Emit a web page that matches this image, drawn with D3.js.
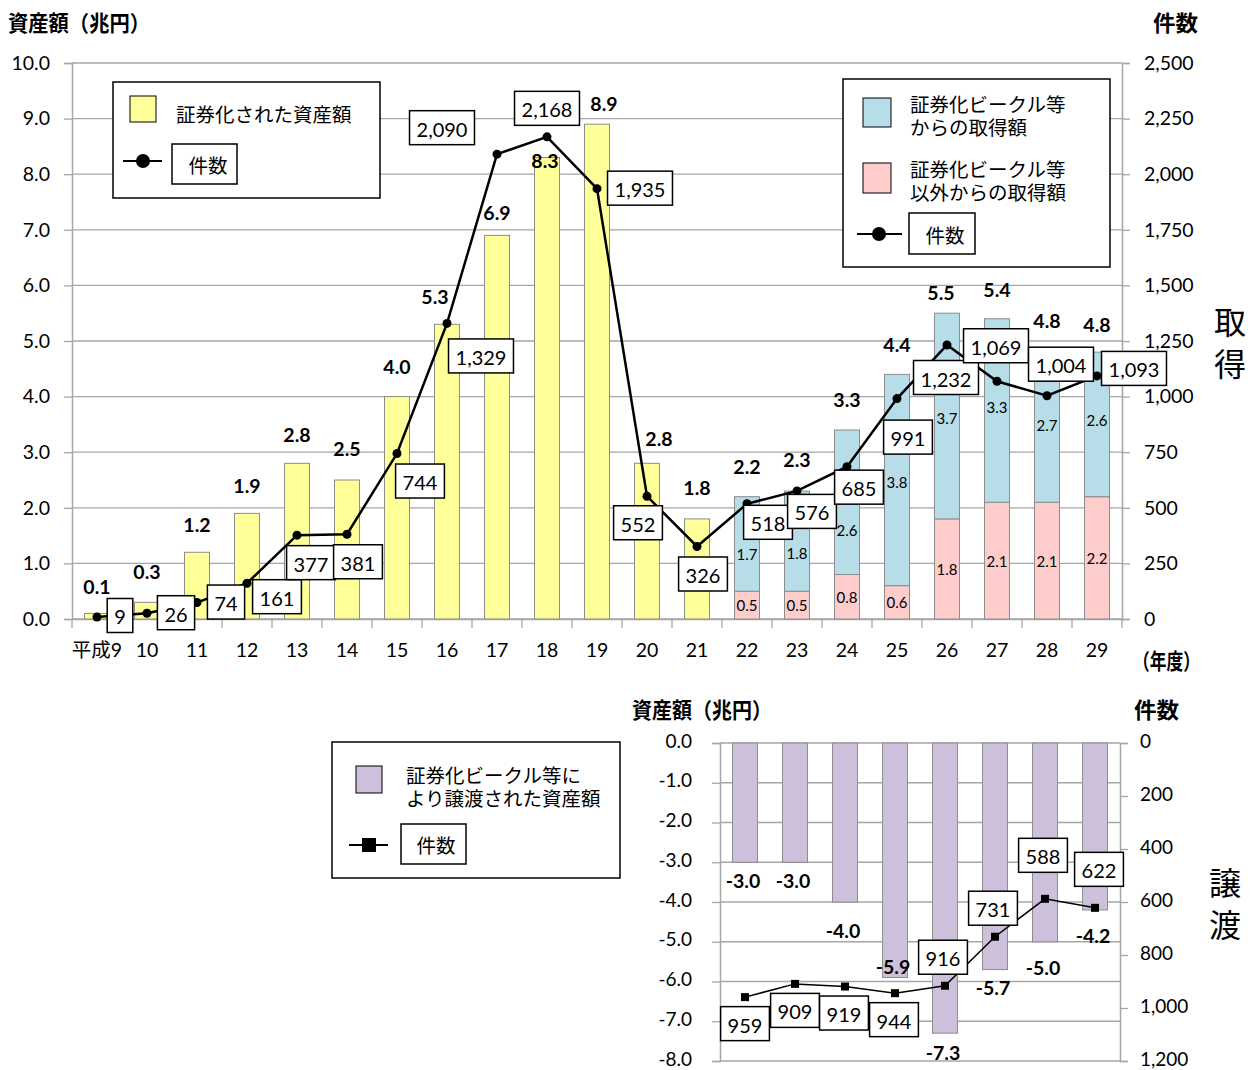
<!DOCTYPE html>
<html><head><meta charset="utf-8">
<script src="https://cdn.jsdelivr.net/npm/d3@7/dist/d3.min.js"></script>
<style>
body{margin:0;background:#fff;}
text{font-family:Lato,'Noto Sans CJK JP',sans-serif;fill:#000;}
</style></head><body>
<svg id="c" width="1255" height="1070"></svg>
<script>
// ---------- data ----------
const topYears = ['平成9','10','11','12','13','14','15','16','17','18','19','20','21','22','23','24','25','26','27','28','29'];
const securitizedYears = ['平成9','10','11','12','13','14','15','16','17','18','19','20','21'];
const securitizedAmount = [0.1,0.3,1.2,1.9,2.8,2.5,4.0,5.3,6.9,8.3,8.9,2.8,1.8];
const acqYears = ['22','23','24','25','26','27','28','29'];
const acqFromVehicle = [1.7,1.8,2.6,3.8,3.7,3.3,2.7,2.6];
const acqOther = [0.5,0.5,0.8,0.6,1.8,2.1,2.1,2.2];
const acqTotal = [2.2,2.3,3.3,4.4,5.5,5.4,4.8,4.8];
const topCounts = [9,26,74,161,377,381,744,1329,2090,2168,1935,552,326,518,576,685,991,1232,1069,1004,1093];
const leftTicksTop = [0,1,2,3,4,5,6,7,8,9,10];
const rightTicksTop = [0,250,500,750,1000,1250,1500,1750,2000,2250,2500];

const transferYears = ['22','23','24','25','26','27','28','29'];
const transferAmount = [-3.0,-3.0,-4.0,-5.9,-7.3,-5.7,-5.0,-4.2];
const transferCounts = [959,909,919,944,916,731,588,622];
const leftTicksBot = [0,-1,-2,-3,-4,-5,-6,-7,-8];
const rightTicksBot = [0,200,400,600,800,1000,1200];

// ---------- layout (label placement offsets) ----------
const topCountOff = [[23,0],[29,1],[29,1],[30,15],[14,29],[11,29],[23,29],[34,34],[-55,-25],[0,-27],[43,1],[-9,28],[6,29],[21,20],[15,22],[12,22],[11,40],[-1,34],[-1,-34],[14,-30],[37,-6]];
const topTotalOff = [[0,-26],[0,-30],[0,-27],[0,-27],[0,-28],[0,-31],[0,-29],[-12,-27],[0,-22],[-2,4],[7,-20],[12,-24],[0,-30],[0,-29],[0,-31],[0,-29],[0,-29],[-6,-20],[0,-28],[0,-31],[0,-27]];
const vehicleLblOff = [10,12,28,2,2,-4,-2,-4];
const botCountOff = [[0,28],[0,28],[-1,28],[-1,28],[-2,-27],[-2,-27],[-2,-42],[4,-37]];
const botAmtOff = [18,18,28,-11,19,18,26,26];

const svg = d3.select('#c');
const fmt1 = d => d.toFixed(1);
const fmtC = d3.format(',');
const grid = '#a6a6a6';

// ================= TOP CHART =================
const xT = d3.scaleBand().domain(topYears).range([72,1122]).paddingInner(0.5).paddingOuter(0.25);
const yL = d3.scaleLinear().domain([0,10]).range([619,63]);
const yR = d3.scaleLinear().domain([0,2500]).range([619,63]);
const cx = d => xT(d) + xT.bandwidth()/2;

const gT = svg.append('g');
gT.selectAll('line.g').data(leftTicksTop).join('line')
  .attr('x1',72).attr('x2',1122).attr('y1',d=>yL(d)).attr('y2',d=>yL(d))
  .attr('stroke',grid).attr('stroke-width',1.3);
const axL = gT.append('g').attr('transform','translate(72,0)')
  .call(d3.axisLeft(yL).tickValues(leftTicksTop).tickFormat(fmt1).tickSize(8).tickPadding(14));
const axR = gT.append('g').attr('transform','translate(1122,0)')
  .call(d3.axisRight(yR).tickValues(rightTicksTop).tickFormat(fmtC).tickSize(8).tickPadding(14));
[axL,axR].forEach(a=>{
  a.select('.domain').attr('stroke',grid).attr('stroke-width',1.5);
  a.selectAll('.tick line').attr('stroke',grid).attr('stroke-width',1.3);
  a.selectAll('.tick text').attr('font-size',19.5).attr('font-family','Lato');
});
const axB = gT.append('g').attr('transform','translate(0,619)')
  .call(d3.axisBottom(xT).tickSize(0).tickPadding(24));
axB.select('.domain').attr('stroke',grid).attr('stroke-width',1.5);
axB.selectAll('.tick text').attr('font-size',19.5);
const bounds = topYears.map(d=>xT(d) - xT.step()*0.25).concat([xT(topYears[topYears.length-1]) + xT.step()*0.75]);
gT.selectAll('line.bt').data(bounds).join('line')
  .attr('x1',d=>d).attr('x2',d=>d).attr('y1',619).attr('y2',628)
  .attr('stroke',grid).attr('stroke-width',1.3);

gT.selectAll('rect.y').data(securitizedAmount).join('rect')
  .attr('x',(d,i)=>xT(securitizedYears[i])).attr('width',xT.bandwidth())
  .attr('y',d=>yL(d)).attr('height',d=>yL(0)-yL(d))
  .attr('fill','#ffff99').attr('stroke','#8c8c8c').attr('stroke-width',1);
gT.selectAll('rect.p').data(acqOther).join('rect')
  .attr('x',(d,i)=>xT(acqYears[i])).attr('width',xT.bandwidth())
  .attr('y',d=>yL(d)).attr('height',d=>yL(0)-yL(d))
  .attr('fill','#ffcccc').attr('stroke','#8c8c8c').attr('stroke-width',1);
gT.selectAll('rect.b').data(acqFromVehicle).join('rect')
  .attr('x',(d,i)=>xT(acqYears[i])).attr('width',xT.bandwidth())
  .attr('y',(d,i)=>yL(d+acqOther[i])).attr('height',(d,i)=>yL(acqOther[i])-yL(d+acqOther[i]))
  .attr('fill','#b7dde8').attr('stroke','#8c8c8c').attr('stroke-width',1);
gT.selectAll('text.pl').data(acqOther).join('text')
  .attr('x',(d,i)=>cx(acqYears[i])).attr('y',d=>(yL(0)+yL(d))/2)
  .attr('text-anchor','middle').attr('dominant-baseline','central').attr('font-size',15)
  .text(fmt1);
gT.selectAll('text.bl').data(acqFromVehicle).join('text')
  .attr('x',(d,i)=>cx(acqYears[i])).attr('y',(d,i)=>(yL(acqOther[i])+yL(d+acqOther[i]))/2 + vehicleLblOff[i])
  .attr('text-anchor','middle').attr('dominant-baseline','central').attr('font-size',15)
  .text(fmt1);
const topTotals = securitizedAmount.concat(acqTotal);
const topBarTops = securitizedAmount.concat(acqFromVehicle.map((d,i)=>d+acqOther[i]));
gT.selectAll('text.tt').data(topTotals).join('text')
  .attr('x',(d,i)=>cx(topYears[i]) + topTotalOff[i][0])
  .attr('y',(d,i)=>yL(topBarTops[i]) + topTotalOff[i][1] - 1)
  .attr('text-anchor','middle').attr('dominant-baseline','central')
  .attr('font-size',19.5).attr('font-weight','bold').text(fmt1);
const lineT = d3.line().x((d,i)=>cx(topYears[i])).y(d=>yR(d));
gT.append('path').datum(topCounts).attr('d',lineT).attr('fill','none').attr('stroke','#000').attr('stroke-width',2.5);
gT.selectAll('circle.pt').data(topCounts).join('circle')
  .attr('cx',(d,i)=>cx(topYears[i])).attr('cy',d=>yR(d)).attr('r',4.5).attr('fill','#000');
function boxLabels(g, data, xf, yf, off, fs){
  const gg = g.selectAll('g.lb').data(data).join('g')
    .attr('transform',(d,i)=>`translate(${xf(d,i)+off[i][0]},${yf(d,i)+off[i][1]-1.5})`);
  gg.append('rect');
  const t = gg.append('text').attr('text-anchor','middle').attr('dominant-baseline','central')
    .attr('font-size',fs).attr('y',1).text(d=>fmtC(d));
  t.each(function(){
    const w = this.getComputedTextLength();
    d3.select(this.previousSibling).attr('x',-w/2-7).attr('width',w+14).attr('y',-17).attr('height',34)
      .attr('fill','#fff').attr('stroke','#000').attr('stroke-width',1.5);
  });
}
boxLabels(gT.append('g'), topCounts, (d,i)=>cx(topYears[i]), d=>yR(d), topCountOff, 20);

function title(x,y,txt,len){
  const t = svg.append('text').attr('x',x).attr('y',y).attr('font-size',22).attr('font-weight','bold').text(txt);
  if(len) t.attr('textLength',len).attr('lengthAdjust','spacingAndGlyphs');
  return t;
}
title(8,31,'資産額（兆円）',142);
title(1153,31,'件数',45);
title(1133,669,'（年度）',67);
svg.append('text').attr('x',1230).attr('y',334).attr('text-anchor','middle').attr('font-size',32).text('取');
svg.append('text').attr('x',1230).attr('y',376).attr('text-anchor','middle').attr('font-size',32).text('得');

const LF = 19.5;
const lg1 = svg.append('g');
lg1.append('rect').attr('x',113).attr('y',82).attr('width',267).attr('height',116).attr('fill','#fff').attr('stroke','#000').attr('stroke-width',1.5);
lg1.append('rect').attr('x',130).attr('y',96).attr('width',26).attr('height',26).attr('fill','#ffff99').attr('stroke','#000').attr('stroke-width',1);
lg1.append('text').attr('x',176).attr('y',114).attr('dominant-baseline','central').attr('font-size',LF).text('証券化された資産額');
lg1.append('line').attr('x1',123).attr('x2',162).attr('y1',161).attr('y2',161).attr('stroke','#000').attr('stroke-width',2);
lg1.append('circle').attr('cx',143).attr('cy',161).attr('r',7).attr('fill','#000');
lg1.append('rect').attr('x',172).attr('y',144).attr('width',65).attr('height',40).attr('fill','#fff').attr('stroke','#000').attr('stroke-width',1.5);
lg1.append('text').attr('x',208).attr('y',165).attr('text-anchor','middle').attr('dominant-baseline','central').attr('font-size',LF).text('件数');

const lg2 = svg.append('g');
lg2.append('rect').attr('x',843).attr('y',79).attr('width',267).attr('height',188).attr('fill','#fff').attr('stroke','#000').attr('stroke-width',1.5);
lg2.append('rect').attr('x',863).attr('y',98).attr('width',28).attr('height',29).attr('fill','#b7dde8').attr('stroke','#000').attr('stroke-width',1);
lg2.append('text').attr('x',910).attr('y',104).attr('dominant-baseline','central').attr('font-size',LF).text('証券化ビークル等');
lg2.append('text').attr('x',910).attr('y',127).attr('dominant-baseline','central').attr('font-size',LF).text('からの取得額');
lg2.append('rect').attr('x',863).attr('y',163).attr('width',28).attr('height',30).attr('fill','#ffcccc').attr('stroke','#000').attr('stroke-width',1);
lg2.append('text').attr('x',910).attr('y',169).attr('dominant-baseline','central').attr('font-size',LF).text('証券化ビークル等');
lg2.append('text').attr('x',910).attr('y',192).attr('dominant-baseline','central').attr('font-size',LF).text('以外からの取得額');
lg2.append('line').attr('x1',857).attr('x2',902).attr('y1',234).attr('y2',234).attr('stroke','#000').attr('stroke-width',2);
lg2.append('circle').attr('cx',879).attr('cy',234).attr('r',7).attr('fill','#000');
lg2.append('rect').attr('x',909).attr('y',213).attr('width',66).attr('height',41).attr('fill','#fff').attr('stroke','#000').attr('stroke-width',1.5);
lg2.append('text').attr('x',945).attr('y',235).attr('text-anchor','middle').attr('dominant-baseline','central').attr('font-size',LF).text('件数');

// ================= BOTTOM CHART =================
const xB = d3.scaleBand().domain(transferYears).range([720,1120]).paddingInner(0.5).paddingOuter(0.25);
const yBL = d3.scaleLinear().domain([-8,0]).range([1061,743]);
const yBR = d3.scaleLinear().domain([0,1200]).range([743,1061]);
const bx = d => xB(d) + xB.bandwidth()/2;
const gB = svg.append('g');
gB.selectAll('line.g').data(leftTicksBot).join('line')
  .attr('x1',720).attr('x2',1120).attr('y1',d=>yBL(d)).attr('y2',d=>yBL(d))
  .attr('stroke',grid).attr('stroke-width',1.3);
const bL = gB.append('g').attr('transform','translate(720,0)')
  .call(d3.axisLeft(yBL).tickValues(leftTicksBot).tickFormat(fmt1).tickSize(8).tickPadding(20));
const bR = gB.append('g').attr('transform','translate(1120,0)')
  .call(d3.axisRight(yBR).tickValues(rightTicksBot).tickFormat(fmtC).tickSize(8).tickPadding(12));
[bL,bR].forEach(a=>{
  a.select('.domain').attr('stroke',grid).attr('stroke-width',1.5);
  a.selectAll('.tick line').attr('stroke',grid).attr('stroke-width',1.3);
  a.selectAll('.tick text').attr('font-size',19).attr('font-family','Lato').attr('dy','0.22em');
});
gB.selectAll('rect.v').data(transferAmount).join('rect')
  .attr('x',(d,i)=>xB(transferYears[i])).attr('width',xB.bandwidth())
  .attr('y',yBL(0)).attr('height',d=>yBL(d)-yBL(0))
  .attr('fill','#ccc0da').attr('stroke','#8c8c8c').attr('stroke-width',1);
gB.selectAll('text.am').data(transferAmount).join('text')
  .attr('x',(d,i)=>bx(transferYears[i]) - 2).attr('y',(d,i)=>yBL(d)+botAmtOff[i])
  .attr('text-anchor','middle').attr('dominant-baseline','central')
  .attr('font-size',19.5).attr('font-weight','bold').text(fmt1);
const lineB = d3.line().x((d,i)=>bx(transferYears[i])).y(d=>yBR(d));
gB.append('path').datum(transferCounts).attr('d',lineB).attr('fill','none').attr('stroke','#000').attr('stroke-width',1.5);
gB.selectAll('rect.mk').data(transferCounts).join('rect')
  .attr('x',(d,i)=>bx(transferYears[i])-4).attr('y',d=>yBR(d)-4).attr('width',8).attr('height',8).attr('fill','#000');
boxLabels(gB.append('g'), transferCounts, (d,i)=>bx(transferYears[i]), d=>yBR(d), botCountOff, 20);

title(632,718,'資産額（兆円）',140);
title(1134,718,'件数',45);
svg.append('text').attr('x',1225).attr('y',895).attr('text-anchor','middle').attr('font-size',32).text('譲');
svg.append('text').attr('x',1225).attr('y',937).attr('text-anchor','middle').attr('font-size',32).text('渡');

const lg3 = svg.append('g');
lg3.append('rect').attr('x',332).attr('y',742).attr('width',288).attr('height',136).attr('fill','#fff').attr('stroke','#000').attr('stroke-width',1.5);
lg3.append('rect').attr('x',356).attr('y',766).attr('width',26).attr('height',27).attr('fill','#ccc0da').attr('stroke','#000').attr('stroke-width',1);
lg3.append('text').attr('x',406).attr('y',775).attr('dominant-baseline','central').attr('font-size',LF).text('証券化ビークル等に');
lg3.append('text').attr('x',406).attr('y',798).attr('dominant-baseline','central').attr('font-size',LF).text('より譲渡された資産額');
lg3.append('line').attr('x1',349).attr('x2',388).attr('y1',845).attr('y2',845).attr('stroke','#000').attr('stroke-width',2);
lg3.append('rect').attr('x',362).attr('y',838).attr('width',14).attr('height',14).attr('fill','#000');
lg3.append('rect').attr('x',401).attr('y',824).attr('width',65).attr('height',40).attr('fill','#fff').attr('stroke','#000').attr('stroke-width',1.5);
lg3.append('text').attr('x',436).attr('y',845).attr('text-anchor','middle').attr('dominant-baseline','central').attr('font-size',LF).text('件数');
</script></body></html>
